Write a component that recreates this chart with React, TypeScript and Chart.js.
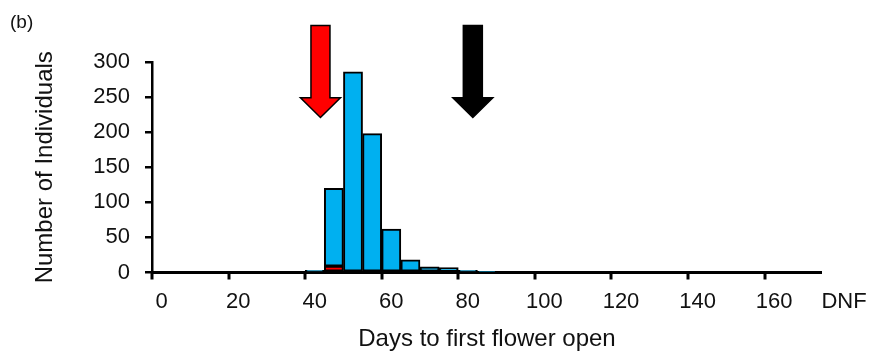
import React, { useEffect, useRef } from 'react';
import { Chart, registerables } from 'chart.js';

Chart.register(...registerables);

// 5-day bins (start day of each bin)
const binStarts = ['0', '5', '10', '15', '20', '25', '30', '35', '40', '45', '50', '55', '60', '65', '70', '75', '80', '85', '90', '95', '100', '105', '110', '115', '120', '125', '130', '135', '140', '145', '150', '155', '160', '165', '170'];
// labels shown on the axis (every 4th bin)
const tickLabels = ['0', '20', '40', '60', '80', '100', '120', '140', '160'];
const extraTickLabel = 'DNF';

// red subgroup (bottom of stack)
const redCounts = [null, null, null, null, null, null, null, null, null, 9, null, null, null, null, null, null, null, null, null, null, null, null, null, null, null, null, null, null, null, null, null, null, null, null, null];
// blue group (stacked on top)
const blueCounts = [null, null, null, null, null, null, null, null, 3, 111, 286, 198, 62, 18, 8, 7, 3, 1, null, null, null, null, null, null, null, null, null, null, null, null, null, null, null, null, null];

// arrows: day position and colour, vertical extent in count units
const arrowDays = [44, 83.8];
const arrowColors = ['#FF0000', '#000000'];
const arrowTopValue = 352;
const arrowHeadValue = 249;
const arrowTipValue = 221;

const FONT = "'Liberation Sans', Arial, sans-serif";
const TICK_SIZE = 22;
const TITLE_SIZE = 24;
const X_TICK_LEN = 7;
const X_TICK_PAD = 9;

const arrowPlugin = {
  id: 'arrowsAndDnf',
  afterDraw(chart: any) {
    const { ctx, scales, chartArea } = chart;
    const xs = scales.x;
    const ys = scales.y;
    ctx.save();
    // x-axis tick marks at every 4th bin boundary
    ctx.strokeStyle = '#000';
    ctx.lineWidth = 3;
    tickLabels.forEach((_t, k) => {
      const px = Math.round(xs.getPixelForValue(k * 4 - 0.5));
      ctx.beginPath();
      ctx.moveTo(px, xs.top);
      ctx.lineTo(px, xs.top + X_TICK_LEN);
      ctx.stroke();
    });
    arrowDays.forEach((d, i) => {
      const cx = xs.getPixelForValue(d / 5 - 0.5);
      const yTop = ys.getPixelForValue(arrowTopValue);
      const yHead = ys.getPixelForValue(arrowHeadValue);
      const yTip = ys.getPixelForValue(arrowTipValue);
      const sw = 9.5;
      const hw = 20;
      ctx.beginPath();
      ctx.moveTo(cx - sw, yTop);
      ctx.lineTo(cx + sw, yTop);
      ctx.lineTo(cx + sw, yHead);
      ctx.lineTo(cx + hw, yHead);
      ctx.lineTo(cx, yTip);
      ctx.lineTo(cx - hw, yHead);
      ctx.lineTo(cx - sw, yHead);
      ctx.closePath();
      ctx.fillStyle = arrowColors[i];
      ctx.fill();
      ctx.lineWidth = 1.5;
      ctx.strokeStyle = '#000';
      ctx.lineJoin = 'miter';
      ctx.stroke();
    });
    // DNF label after the last axis label
    ctx.font = `${TICK_SIZE}px ${FONT}`;
    ctx.fillStyle = '#111';
    ctx.textAlign = 'center';
    ctx.textBaseline = 'middle';
    ctx.fillText(extraTickLabel, chartArea.right + 22, xs.top + X_TICK_LEN + X_TICK_PAD + (TICK_SIZE * 1.2) / 2);
    // panel label
    ctx.font = `19px ${FONT}`;
    ctx.textAlign = 'left';
    ctx.fillText('(b)', 10, 23);
    ctx.restore();
  },
};

export default function App() {
  const ref = useRef<HTMLCanvasElement>(null);
  useEffect(() => {
    if (!ref.current) return;
    const chart = new Chart(ref.current, {
      type: 'bar',
      data: {
        labels: binStarts,
        datasets: [
          {
            data: redCounts as any,
            backgroundColor: '#FF0000',
            borderColor: '#000',
            borderWidth: 2,
            borderSkipped: false,
            barPercentage: 1,
            categoryPercentage: 1,
          },
          {
            data: blueCounts as any,
            backgroundColor: '#00B0F0',
            borderColor: '#000',
            borderWidth: 2,
            borderSkipped: false,
            barPercentage: 1,
            categoryPercentage: 1,
          },
        ],
      },
      options: {
        responsive: false,
        animation: false,
        devicePixelRatio: 1,
        layout: { padding: { top: 62, left: 0, right: 56, bottom: 0 } },
        plugins: { legend: { display: false }, tooltip: { enabled: false } },
        scales: {
          x: {
            stacked: true,
            offset: true,
            grid: {
              offset: true,
              display: true,
              drawOnChartArea: false,
              drawTicks: true,
              tickLength: X_TICK_LEN,
              lineWidth: 0,
              color: 'rgba(0,0,0,0)',
            },
            border: { color: '#000', width: 3 },
            ticks: {
              autoSkip: false,
              maxRotation: 0,
              minRotation: 0,
              padding: X_TICK_PAD,
              color: '#111',
              font: { family: FONT, size: TICK_SIZE },
              callback: (_v: any, i: number) => (i % 4 === 0 ? tickLabels[i / 4] : ''),
            },
            title: {
              display: true,
              text: 'Days to first flower open',
              color: '#111',
              font: { family: FONT, size: TITLE_SIZE },
              padding: { top: 0, bottom: 6 },
            },
            afterFit: (s: any) => {
              s.height = 87.5;
            },
          },
          y: {
            stacked: true,
            min: 0,
            max: 300,
            grid: {
              drawOnChartArea: false,
              drawTicks: true,
              tickLength: 7,
              lineWidth: 2.5,
              color: '#000',
            },
            border: { color: '#000', width: 2.5 },
            ticks: {
              stepSize: 50,
              padding: 15,
              color: '#111',
              font: { family: FONT, size: TICK_SIZE },
            },
            title: {
              display: true,
              text: 'Number of Individuals',
              color: '#111',
              font: { family: FONT, size: TITLE_SIZE },
              padding: { top: 31, bottom: 0 },
            },
            afterFit: (s: any) => {
              s.width = 152;
            },
          },
        },
      },
      plugins: [arrowPlugin],
    });
    return () => chart.destroy();
  }, []);
  return (
    <div style={{ position: 'fixed', left: 0, top: 0, width: 878, height: 360, background: '#fff' }}>
      <canvas ref={ref} width={878} height={360} />
    </div>
  );
}
